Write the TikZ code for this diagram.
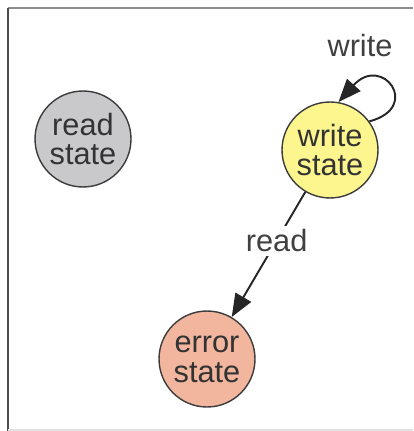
\documentclass[tikz,border=0pt]{standalone}
\usepackage{fontspec}
\setmainfont{Liberation Sans}
\usetikzlibrary{arrows.meta}
\usepackage{xcolor}

\definecolor{readfill}{HTML}{C9C9CB}
\definecolor{writefill}{HTML}{FDF58E}
\definecolor{errorfill}{HTML}{F2B59E}
\definecolor{rim}{HTML}{3C3C3C}

\tikzset{
  state/.style={circle, draw=rim, line width=0.8pt, minimum size=1.92cm,
    inner sep=0pt, align=center, text=black!80,
    font=\fontsize{17.5}{17}\selectfont},
  trans/.style={line width=1.1pt, draw=black!85,
    -{Triangle[length=0.46cm,width=0.36cm]}},
  lbl/.style={text=black!75, font=\fontsize{17.5}{17}\selectfont}
}

\begin{document}
\begin{tikzpicture}[x=0.02cm,y=-0.02cm]
  \useasboundingbox (0,0) rectangle (413,431);
  % Frame round the picture
  \draw[black!45, line width=1.6pt] (8,8) -- (413,8);
  \draw[black!70, line width=1.1pt] (8,8) -- (8,431);
  \draw[black!12, line width=0.8pt] (8,430) -- (413,430);

  % The three states
  \node[state, fill=readfill] (read) at (83,139) {read\\state};
  \node[state, fill=writefill] (write) at (330,150) {write\\state};
  \node[state, fill=errorfill] (error) at (207,359) {error\\state};

  % Self loop on the write state (y runs downwards, so angles are negative)
  \draw[trans] (write.36) .. controls +(-15:55) and +(-48:65) .. (write.80);
  \node[lbl] (writelbl) at (360,46) {write};

  % From write to error
  \draw[trans] (write) -- (error)
    node[lbl, pos=0.39, fill=white, inner sep=2pt] (readlbl) {read};
\end{tikzpicture}
\end{document}
